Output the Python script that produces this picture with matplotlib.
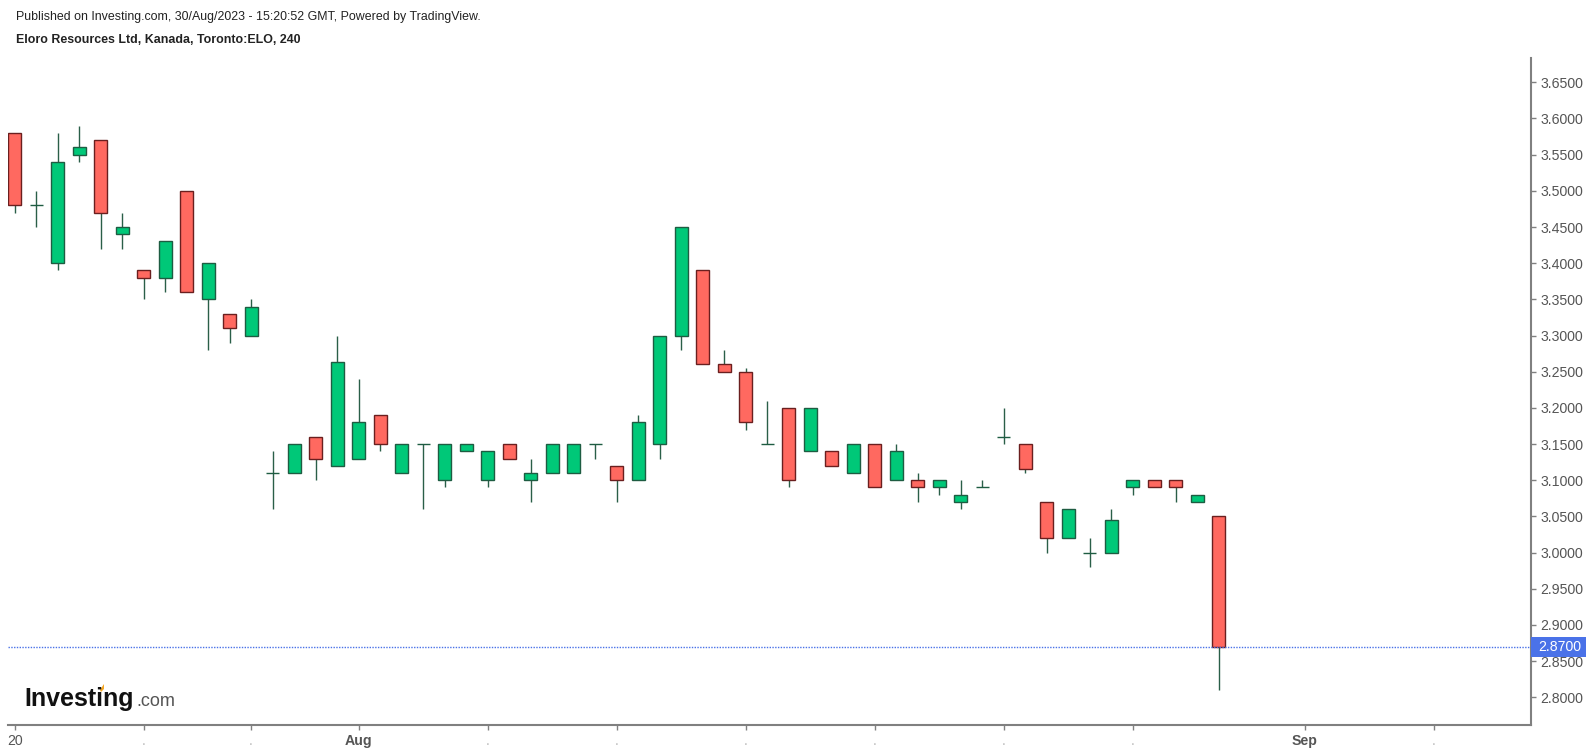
#!/usr/bin/python3
# 4h candles for ELO, redrawn from the published Investing.com chart

import matplotlib
matplotlib.use("Agg")
import matplotlib.pyplot as plt
from matplotlib.patches import Rectangle, Polygon

plt.rcParams['font.family'] = ['Liberation Sans', 'DejaVu Sans']

opens = [3.58, 3.48, 3.40, 3.55, 3.57, 3.44, 3.39, 3.38, 3.50, 3.35, 3.33, 3.30,
         3.11, 3.11, 3.16, 3.12, 3.13, 3.19, 3.11, 3.15, 3.10, 3.14, 3.10, 3.15,
         3.10, 3.11, 3.11, 3.15, 3.12, 3.10, 3.15, 3.30, 3.39, 3.26, 3.25, 3.15,
         3.20, 3.14, 3.14, 3.11, 3.15, 3.10, 3.10, 3.09, 3.07, 3.09, 3.16, 3.15,
         3.07, 3.02, 3.00, 3.00, 3.09, 3.10, 3.10, 3.07, 3.05]
closes = [3.48, 3.48, 3.54, 3.56, 3.47, 3.45, 3.38, 3.43, 3.36, 3.40, 3.31, 3.34,
          3.11, 3.15, 3.13, 3.264, 3.18, 3.15, 3.15, 3.15, 3.15, 3.15, 3.14, 3.13,
          3.11, 3.15, 3.15, 3.15, 3.10, 3.18, 3.30, 3.45, 3.26, 3.25, 3.18, 3.15,
          3.10, 3.20, 3.12, 3.15, 3.09, 3.14, 3.09, 3.10, 3.08, 3.09, 3.16, 3.115,
          3.02, 3.06, 3.00, 3.045, 3.10, 3.09, 3.09, 3.08, 2.87]
highs = [3.58, 3.50, 3.58, 3.59, 3.57, 3.47, 3.39, 3.43, 3.50, 3.40, 3.33, 3.35,
         3.14, 3.15, 3.16, 3.30, 3.24, 3.19, 3.15, 3.15, 3.15, 3.15, 3.14, 3.15,
         3.13, 3.15, 3.15, 3.15, 3.12, 3.19, 3.30, 3.45, 3.39, 3.28, 3.255, 3.21,
         3.20, 3.20, 3.14, 3.15, 3.15, 3.15, 3.11, 3.10, 3.10, 3.10, 3.20, 3.15,
         3.07, 3.06, 3.02, 3.06, 3.10, 3.10, 3.10, 3.08, 3.05]
lows = [3.47, 3.45, 3.39, 3.54, 3.42, 3.42, 3.35, 3.36, 3.36, 3.28, 3.29, 3.30,
        3.06, 3.11, 3.10, 3.12, 3.13, 3.14, 3.11, 3.06, 3.09, 3.14, 3.09, 3.13,
        3.07, 3.11, 3.11, 3.13, 3.07, 3.10, 3.13, 3.28, 3.26, 3.25, 3.17, 3.15,
        3.09, 3.14, 3.12, 3.11, 3.09, 3.10, 3.07, 3.08, 3.06, 3.09, 3.15, 3.11,
        3.00, 3.02, 2.98, 3.00, 3.08, 3.09, 3.07, 3.07, 2.81]

last_price = 2.87

y_ticks = [2.80, 2.85, 2.90, 2.95, 3.00, 3.05, 3.10, 3.15, 3.20, 3.25, 3.30,
           3.35, 3.40, 3.45, 3.50, 3.55, 3.60, 3.65]
x_ticks = [0, 6, 11, 16, 22, 28, 34, 40, 46, 52, 60, 66]
x_labels = ["20", ".", ".", "Aug", ".", ".", ".", ".", ".", ".", "Sep", "."]

UP = "#00C878"
DOWN = "#FF6960"
UP_EDGE = "#1E5C42"
DOWN_EDGE = "#6A1F1F"
WICK = "#2A5F48"
AXIS = "#808080"
TEXT = "#555555"
LAST = "#4A72E8"

W, H = 1593, 753
fig = plt.figure(figsize=(W / 100, H / 100), dpi=100)
# axes box in pixels: left 8, right 1531, top 58, bottom 725
ax = fig.add_axes([8 / W, 1 - 725 / H, 1523 / W, 667 / H])

idx = list(range(len(opens)))
ax.vlines(idx, lows, highs, color=WICK, linewidth=1.0, zorder=2)
for i in idx:
    up = closes[i] >= opens[i]
    ax.bar(i, abs(closes[i] - opens[i]), bottom=min(opens[i], closes[i]), width=0.6,
           facecolor=UP if up else DOWN, edgecolor=UP_EDGE if up else DOWN_EDGE,
           linewidth=1.0, zorder=3)

ax.axhline(last_price, color=LAST, linewidth=1.0, linestyle=(0, (1, 1)), zorder=4)

ax.set_xlim(-0.31, 70.53)
ax.set_ylim(2.7617, 3.6836)

ax.yaxis.tick_right()
ax.set_yticks(y_ticks)
ax.set_yticklabels(["%.4f" % v for v in y_ticks])
ax.tick_params(axis='y', length=3.5, width=1, color=AXIS, labelcolor=TEXT, labelsize=10.2, pad=3)
ax.set_xticks(x_ticks)
ax.set_xticklabels(x_labels)
ax.tick_params(axis='x', length=3.5, width=1, color=AXIS, labelcolor=TEXT, labelsize=10.2, pad=3)
for lab in ax.get_xticklabels():
    if lab.get_text() in ("Aug", "Sep"):
        lab.set_fontweight("bold")
    elif lab.get_text() == ".":
        lab.set_color("#BBBBBB")

for side in ("top", "left"):
    ax.spines[side].set_visible(False)
for side in ("right", "bottom"):
    ax.spines[side].set_color(AXIS)
    ax.spines[side].set_linewidth(1.5)

# last price flag on the axis
trans = ax.get_yaxis_transform()
ax.add_patch(Rectangle((1.0, last_price - 0.0138), 55 / 1523, 0.0276, transform=trans,
                       facecolor=LAST, edgecolor="none", clip_on=False, zorder=5))
ax.text(1.0 + 7 / 1523, last_price, "%.4f" % last_price, transform=trans, color="white",
        fontsize=10.2, va="center", ha="left", zorder=6, clip_on=False)

fig.text(16 / W, 1 - 17 / H, "Published on Investing.com, 30/Aug/2023 - 15:20:52 GMT, Powered by TradingView.",
         fontsize=8.9, color="#222222", va="center", ha="left")
fig.text(16 / W, 1 - 40 / H, "Eloro Resources Ltd, Kanada, Toronto:ELO, 240",
         fontsize=8.9, fontweight="bold", color="#222222", va="center", ha="left")

# logo, text plus the orange dot on the i
fig.text(24 / W, 1 - 706 / H, "Investing", fontsize=18, fontweight="bold", color="#111111",
         va="baseline", ha="left")
fig.text(136 / W, 1 - 706 / H, ".com", fontsize=13, color="#555555", va="baseline", ha="left")
fig.add_artist(Polygon([(100 / W, 1 - 690 / H), (104 / W, 1 - 684 / H), (104 / W, 1 - 689 / H), (101 / W, 1 - 692 / H)],
                       closed=True, transform=fig.transFigure, facecolor="#F5A623", edgecolor="none"))

fig.savefig("out.png", dpi=100, facecolor="white")
